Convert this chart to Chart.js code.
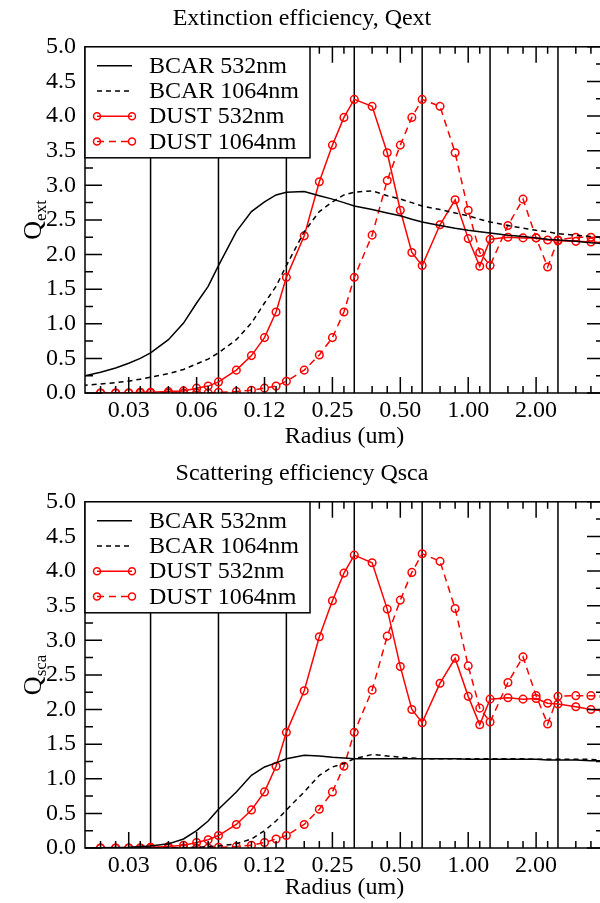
<!DOCTYPE html>
<html>
<head>
<meta charset="utf-8">
<script src="https://cdn.jsdelivr.net/npm/chart.js@4.4.1/dist/chart.umd.min.js"></script>
<style>
  html, body { margin: 0; padding: 0; background: #fff; }
  #wrap { width: 600px; height: 903px; overflow: hidden; }
  canvas { display: block; }
</style>
</head>
<body>
<div id="wrap">
  <canvas id="qext" width="618" height="455"></canvas>
  <canvas id="qsca" width="618" height="448"></canvas>
</div>
<script>
// radius (um) of every computed point
const radius = [
  0.01953125, 0.0234375, 0.02734375, 0.03125, 0.03515625,
  0.0390625, 0.046875, 0.0546875, 0.0625, 0.0703125,
  0.078125, 0.09375, 0.109375, 0.125, 0.140625,
  0.15625, 0.1875, 0.21875, 0.25, 0.28125,
  0.3125, 0.375, 0.4375, 0.5, 0.5625,
  0.625, 0.75, 0.875, 1.0, 1.125,
  1.25, 1.5, 1.75, 2.0, 2.25,
  2.5, 3.0, 3.5, 4.0
];

// Qext
const extBcar532 = [0.24, 0.30, 0.36, 0.43, 0.50, 0.58, 0.77, 1.01, 1.30, 1.54,
  1.84, 2.33, 2.62, 2.76, 2.86, 2.90, 2.91, 2.85, 2.80, 2.75,
  2.70, 2.65, 2.60, 2.56, 2.51, 2.47, 2.42, 2.38, 2.35, 2.33,
  2.31, 2.28, 2.26, 2.24, 2.22, 2.21, 2.19, 2.17, 2.16];
const extBcar1064 = [0.11, 0.13, 0.15, 0.17, 0.20, 0.23, 0.28, 0.34, 0.42, 0.49,
  0.58, 0.77, 1.01, 1.30, 1.54, 1.84, 2.33, 2.62, 2.76, 2.86,
  2.90, 2.92, 2.85, 2.80, 2.75, 2.70, 2.65, 2.60, 2.56, 2.51,
  2.47, 2.42, 2.38, 2.35, 2.33, 2.30, 2.28, 2.26, 2.25];
const extDust532 = [null, 0.0, 0.0, 0.0, 0.01, 0.01, 0.02, 0.03, 0.07, 0.10,
  0.16, 0.33, 0.54, 0.80, 1.17, 1.67, 2.27, 3.05, 3.58, 3.98,
  4.24, 4.14, 3.47, 2.64, 2.03, 1.84, 2.43, 2.79, 2.23, 1.83,
  2.22, 2.25, 2.24, 2.24, 2.21, 2.20, 2.19, 2.18, 2.17];
const extDust1064 = [null, 0.0, 0.0, 0.0, 0.0, 0.0, 0.0, 0.0, 0.0, 0.0,
  0.01, 0.02, 0.04, 0.07, 0.10, 0.17, 0.33, 0.55, 0.80, 1.17,
  1.67, 2.28, 3.07, 3.58, 3.98, 4.24, 4.14, 3.47, 2.64, 2.03,
  1.84, 2.42, 2.80, 2.24, 1.82, 2.21, 2.25, 2.25, 2.24];

// Qsca
const scaBcar532 = [0.0, 0.003, 0.006, 0.01, 0.02, 0.03, 0.06, 0.13, 0.25, 0.39,
  0.56, 0.81, 1.05, 1.17, 1.23, 1.29, 1.34, 1.33, 1.31, 1.30,
  1.29, 1.29, 1.29, 1.29, 1.29, 1.29, 1.29, 1.29, 1.28, 1.28,
  1.28, 1.28, 1.28, 1.28, 1.27, 1.27, 1.27, 1.26, 1.26];
const scaBcar1064 = [0.0, 0.0, 0.0, 0.0, 0.0, 0.0, 0.003, 0.006, 0.01, 0.02,
  0.03, 0.06, 0.13, 0.25, 0.39, 0.55, 0.81, 1.05, 1.17, 1.22,
  1.29, 1.35, 1.33, 1.31, 1.30, 1.29, 1.29, 1.29, 1.29, 1.29,
  1.29, 1.29, 1.29, 1.28, 1.28, 1.28, 1.28, 1.28, 1.27];
const scaDust532 = [null, 0.0, 0.0, 0.0, 0.0, 0.01, 0.02, 0.04, 0.08, 0.12,
  0.18, 0.34, 0.55, 0.81, 1.18, 1.67, 2.27, 3.05, 3.57, 3.97,
  4.23, 4.12, 3.45, 2.62, 2.00, 1.81, 2.38, 2.74, 2.19, 1.78,
  2.15, 2.17, 2.15, 2.16, 2.09, 2.08, 2.04, 2.00, 1.98];
const scaDust1064 = [null, 0.0, 0.0, 0.0, 0.0, 0.0, 0.0, 0.0, 0.0, 0.0,
  0.01, 0.02, 0.04, 0.08, 0.13, 0.18, 0.34, 0.56, 0.81, 1.18,
  1.67, 2.28, 3.06, 3.58, 3.98, 4.25, 4.14, 3.46, 2.63, 2.02,
  1.82, 2.39, 2.76, 2.20, 1.79, 2.19, 2.20, 2.20, 2.19];

const seriesNames = ['BCAR 532nm', 'BCAR 1064nm', 'DUST 532nm', 'DUST 1064nm'];

// axis ticks
const xTickValues = [0.03125, 0.0625, 0.125, 0.25, 0.5, 1, 2];
const xTickLabels = ['0.03', '0.06', '0.12', '0.25', '0.50', '1.00', '2.00'];
const xLines = [0.0390625, 0.078125, 0.15625, 0.3125, 0.625, 1.25, 2.5];
const xMinor = [0.0234375, 0.02734375, 0.03515625, 0.046875, 0.0546875, 0.0703125,
  0.09375, 0.109375, 0.140625, 0.1875, 0.21875, 0.28125, 0.375, 0.4375, 0.5625,
  0.75, 0.875, 1.125, 1.5, 1.75, 2.25, 3.0, 3.5];
const yMajor = [0, 0.5, 1, 1.5, 2, 2.5, 3, 3.5, 4, 4.5, 5];
const yMinor = [0.25, 0.75, 1.25, 1.75, 2.25, 2.75, 3.25, 3.75, 4.25, 4.75];

const FONT = "'Liberation Serif', 'DejaVu Serif', serif";
const RED = 'rgb(255,0,0)';

function makeSet(label, values, color, dash, marker) {
  return {
    label: label,
    data: radius.map((r, i) => ({x: r, y: values[i]})),
    borderColor: color,
    borderWidth: 1.5,
    borderDash: dash,
    pointRadius: marker ? 3.8 : 0,
    pointBorderWidth: 1.5,
    pointBorderColor: color,
    pointBackgroundColor: 'rgba(0,0,0,0)',
    tension: 0,
    fill: false,
    spanGaps: false
  };
}

const framePlugin = {
  id: 'frame',
  beforeDatasetsDraw(chart) {
    const {ctx, chartArea: a, scales: {x}} = chart;
    ctx.save();
    ctx.strokeStyle = '#000';
    ctx.lineWidth = 1.5;
    ctx.beginPath();
    xLines.forEach(v => {
      const px = x.getPixelForValue(v);
      ctx.moveTo(px, a.top);
      ctx.lineTo(px, a.bottom);
    });
    ctx.stroke();
    ctx.restore();
  },
  afterDatasetsDraw(chart, args, opts) {
    const {ctx, chartArea: a, scales: {x, y}} = chart;
    ctx.save();
    ctx.strokeStyle = '#000';
    ctx.lineWidth = 1.5;
    ctx.beginPath();
    // inward ticks, bottom and top
    const xt = (v, len) => {
      const px = x.getPixelForValue(v);
      ctx.moveTo(px, a.bottom); ctx.lineTo(px, a.bottom - len);
      ctx.moveTo(px, a.top); ctx.lineTo(px, a.top + len);
    };
    xTickValues.forEach(v => xt(v, 16));
    xMinor.forEach(v => xt(v, 7));
    // inward ticks, left and right
    const yt = (v, len) => {
      const py = y.getPixelForValue(v);
      ctx.moveTo(a.left, py); ctx.lineTo(a.left + len, py);
      ctx.moveTo(a.right, py); ctx.lineTo(a.right - len, py);
    };
    yMajor.forEach(v => yt(v, 17));
    yMinor.forEach(v => yt(v, 8));
    ctx.stroke();
    ctx.strokeRect(a.left, a.top, a.right - a.left, a.bottom - a.top);

    // legend
    const lx = a.left, ly = a.top, lw = 225, lh = 111;
    ctx.fillStyle = '#fff';
    ctx.fillRect(lx, ly, lw, lh);
    ctx.strokeRect(lx, ly, lw, lh);
    ctx.font = '24px ' + FONT;
    ctx.textBaseline = 'middle';
    ctx.textAlign = 'left';
    chart.data.datasets.forEach((d, i) => {
      const ry = ly + 19 + i * 25.2;
      const x0 = lx + 12, x1 = lx + 47;
      ctx.strokeStyle = d.borderColor;
      ctx.lineWidth = 1.5;
      ctx.setLineDash(d.borderDash || []);
      ctx.beginPath();
      ctx.moveTo(x0, ry); ctx.lineTo(x1, ry);
      ctx.stroke();
      ctx.setLineDash([]);
      if (d.pointRadius > 0) {
        [x0, x1].forEach(cx => {
          ctx.beginPath();
          ctx.arc(cx, ry, 3.5, 0, Math.PI * 2);
          ctx.stroke();
        });
      }
      ctx.fillStyle = '#000';
      ctx.fillText(d.label, lx + 64, ry + 1);
    });

    // y title with subscript
    ctx.translate(41, (a.top + a.bottom) / 2);
    ctx.rotate(-Math.PI / 2);
    ctx.fillStyle = '#000';
    ctx.textBaseline = 'alphabetic';
    ctx.font = '26px ' + FONT;
    const qw = ctx.measureText('Q').width;
    ctx.font = '17px ' + FONT;
    const sw = ctx.measureText(opts.sub).width;
    const start = -(qw + sw) / 2;
    ctx.font = '26px ' + FONT;
    ctx.fillText('Q', start, 0);
    ctx.font = '17px ' + FONT;
    ctx.fillText(opts.sub, start + qw, 5);
    ctx.restore();
  }
};

function makePanel(id, title, sub, sets, xTitleBottom, xHeight) {
  const font = {family: FONT, size: 24, weight: 'normal'};
  return new Chart(document.getElementById(id), {
    type: 'line',
    data: {
      datasets: [
        makeSet(seriesNames[0], sets[0], '#000', [], false),
        makeSet(seriesNames[1], sets[1], '#000', [5, 4], false),
        makeSet(seriesNames[2], sets[2], RED, [], true),
        makeSet(seriesNames[3], sets[3], RED, [7, 5], true)
      ]
    },
    options: {
      responsive: false,
      animation: false,
      devicePixelRatio: 1,
      layout: {padding: {left: 0, right: 14, top: 0, bottom: 0}},
      plugins: {
        legend: {display: false},
        tooltip: {enabled: false},
        title: {
          display: true,
          text: title,
          color: '#000',
          font: font,
          padding: {top: 4, bottom: 14}
        },
        frame: {sub: sub}
      },
      scales: {
        x: {
          type: 'logarithmic',
          min: 0.02,
          max: 4,
          afterBuildTicks: s => { s.ticks = xTickValues.map(v => ({value: v})); },
          afterFit: s => { s.height = xHeight; },
          ticks: {
            autoSkip: false,
            maxRotation: 0,
            color: '#000',
            font: font,
            padding: 3,
            callback: v => xTickLabels[xTickValues.indexOf(v)]
          },
          grid: {display: false, drawTicks: false},
          border: {display: false},
          title: {
            display: true,
            text: 'Radius (um)',
            color: '#000',
            font: font,
            padding: {top: 0, bottom: xTitleBottom}
          }
        },
        y: {
          type: 'linear',
          min: 0,
          max: 5,
          afterFit: s => { s.width = 85; },
          ticks: {
            stepSize: 0.5,
            color: '#000',
            font: font,
            padding: 9,
            callback: v => v.toFixed(1)
          },
          grid: {display: false, drawTicks: false},
          border: {display: false}
        }
      }
    },
    plugins: [framePlugin]
  });
}

makePanel('qext', 'Extinction efficiency, Qext', 'ext',
  [extBcar532, extBcar1064, extDust532, extDust1064], 4, 62);
makePanel('qsca', 'Scattering efficiency Qsca', 'sca',
  [scaBcar532, scaBcar1064, scaDust532, scaDust1064], 1, 55);
</script>
</body>
</html>
